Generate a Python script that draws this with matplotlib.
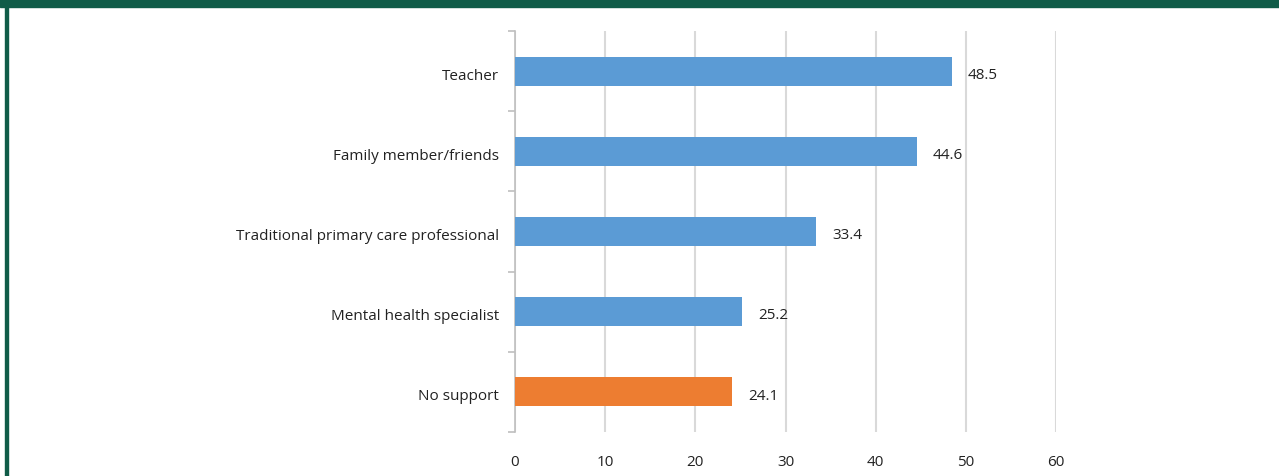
import numpy as np
import matplotlib.pyplot as plt
import matplotlib.transforms as mtransforms
from matplotlib.patches import Rectangle

plt.rcParams['font.family'] = ['Open Sans', 'DejaVu Sans']

# support sources, top to bottom
categories = ['Teacher', 'Family member/friends', 'Traditional primary care professional',
              'Mental health specialist', 'No support']
values = [48.5, 44.6, 33.4, 25.2, 24.1]
colors = ['#5b9bd5', '#5b9bd5', '#5b9bd5', '#5b9bd5', '#ed7d31']
xticks = [0, 10, 20, 30, 40, 50, 60]

W, H = 1279, 477
fig = plt.figure(figsize=(W / 100, H / 100), dpi=100)
ax = fig.add_axes([515 / W, 1 - 433 / H, (1056 - 515) / W, (433 - 32) / H])

y = np.arange(len(categories))
ax.barh(y, values, height=0.36, color=colors, zorder=3)
for yi, v in zip(y, values):
    ax.text(v + 1.75, yi + 0.04, f'{v}', va='center', ha='left', fontsize=11, color='#222222')

ax.set_xlim(0, 60)
ax.set_ylim(len(categories) - 0.5, -0.5)
ax.set_xticks(xticks)
ax.set_yticks(y)
ax.set_yticklabels(categories, fontsize=11, color='#222222')
ax.set_yticks(np.arange(len(categories) + 1) - 0.5, minor=True)
ax.tick_params(axis='y', which='major', length=0, pad=11.5)
ax.tick_params(axis='y', which='minor', length=5, color='#bfbfbf', width=1.2)
ax.tick_params(axis='x', length=0, labelsize=11, labelcolor='#222222', pad=16)
shift = mtransforms.ScaledTranslation(0, -2 / 100, fig.dpi_scale_trans)
for lab in ax.get_yticklabels():
    lab.set_transform(lab.get_transform() + shift)
ax.grid(axis='x', color='#d9d9d9', linewidth=1.5, zorder=0)
for s in ['top', 'right', 'bottom']:
    ax.spines[s].set_visible(False)
ax.spines['left'].set_color('#bfbfbf')
ax.spines['left'].set_linewidth(1.2)

# green frame pieces
fig.patches.append(Rectangle((0, 1 - 7.5 / H), 1, 7.5 / H, transform=fig.transFigure,
                             color='#105c48', zorder=10))
fig.patches.append(Rectangle((5.5 / W, 0), 2.2 / W, 1, transform=fig.transFigure,
                             color='#105c48', zorder=10))

fig.savefig('out.png', dpi=100)
